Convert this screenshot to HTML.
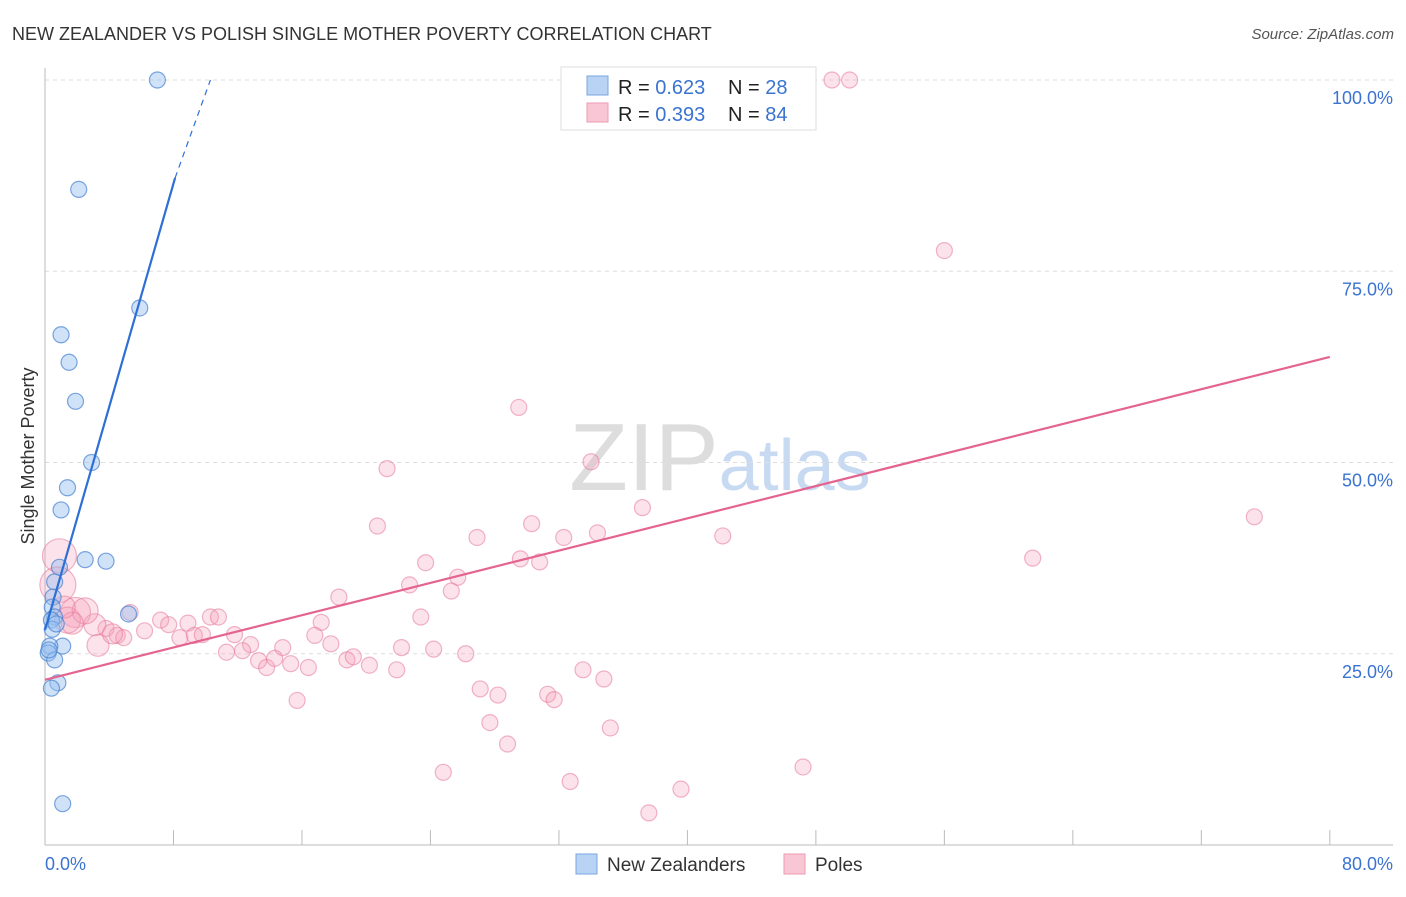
<!DOCTYPE html>
<html><head><meta charset="utf-8"><style>
body{margin:0;background:#fff;font-family:"Liberation Sans",sans-serif;}
svg text{font-family:"Liberation Sans",sans-serif;}
</style></head><body>
<svg id="c" width="1406" height="892" xmlns="http://www.w3.org/2000/svg">
<text x="12" y="40" font-size="18" fill="#333">NEW ZEALANDER VS POLISH SINGLE MOTHER POVERTY CORRELATION CHART</text>
<text x="1394" y="39" font-size="15" fill="#555" text-anchor="end" font-style="italic">Source: ZipAtlas.com</text>
<text x="720" y="490" font-size="96" fill="#ddd" text-anchor="middle" font-family="Liberation Serif">ZIP<tspan fill="#c8daf2" font-family="Liberation Sans" font-size="72">atlas</tspan></text>
<text transform="translate(34,456) rotate(-90)" font-size="18" fill="#333" text-anchor="middle">Single Mother Poverty</text>
<g id="grid"></g><g id="pts"></g><g id="lines"></g>
<g>
<rect x="561" y="67" width="255" height="63" fill="#fff" stroke="#ddd"/>
<rect x="587" y="76" width="21" height="19" fill="#b9d3f5" stroke="#7aa6e0"/>
<rect x="587" y="103" width="21" height="19" fill="#f9c6d5" stroke="#ee99b2"/>
<text x="618" y="94" font-size="20" fill="#222">R = <tspan fill="#3a73d0">0.623</tspan></text>
<text x="728" y="94" font-size="20" fill="#222">N = <tspan fill="#3a73d0">28</tspan></text>
<text x="618" y="121" font-size="20" fill="#222">R = <tspan fill="#3a73d0">0.393</tspan></text>
<text x="728" y="121" font-size="20" fill="#222">N = <tspan fill="#3a73d0">84</tspan></text>
</g>
<g>
<rect x="576" y="854" width="21" height="20" fill="#b9d3f5" stroke="#7aa6e0"/>
<text x="607" y="871" font-size="19" fill="#333">New Zealanders</text>
<rect x="784" y="854" width="21" height="20" fill="#f9c6d5" stroke="#ee99b2"/>
<text x="815" y="871" font-size="19" fill="#333">Poles</text>
</g>
</svg>
<script>
const xTicks=[0,10,20,30,40,50,60,70,80];
const yTicks=[25,50,75,100];
const blueX=[7,2.1,5.9,1,1.5,1.9,2.9,1.4,1,2.5,3.8,0.9,0.6,0.5,0.45,0.6,0.4,5.2,1.1,0.3,0.2,0.6,0.8,0.4,1.1,0.25,0.45,0.7];
const blueY=[100,85.7,70.2,66.7,63.1,58,50,46.7,43.8,37.3,37.1,36.3,34.4,32.4,31.1,29.8,29.4,30.2,26,26,25.1,24.2,21.2,20.5,5.4,25.5,28.2,28.9];
const pinkX=[36,40.3,43,49,50.1,56,29.5,21.3,34,37.2,75.3,30.3,20.7,26.9,32.3,34.4,42.2,61.5,29.6,30.8,23.7,25.7,22.7,25.3,18.3,23.4,17.2,5.3,10.3,10.8,7.2,7.7,8.9,6.2,3.8,4.5,4.9,8.4,9.3,9.8,11.8,12.8,14.8,16.8,17.8,22.2,24.2,26.2,11.3,12.3,13.3,13.8,14.3,15.3,16.4,18.8,19.2,20.2,21.9,33.5,34.8,27.1,28.2,31.3,31.7,15.7,27.7,35.2,28.8,24.8,32.7,47.2,39.6,37.6,0.9,0.8,1.9,3.1,3.3,4.2,1.4,2.5,1.7,1.2];
const pinkY=[100,100,100,100,100,77.7,57.2,49.2,50.1,44.1,42.9,42,41.7,40.2,40.2,40.8,40.4,37.5,37.4,37,36.9,35,34,33.2,32.4,29.8,29.1,30.4,29.8,29.8,29.4,28.8,29,28,28.3,27.4,27.1,27.1,27.4,27.5,27.5,26.2,25.8,27.4,26.3,25.8,25.6,25,25.2,25.4,24.1,23.2,24.4,23.7,23.2,24.2,24.6,23.5,22.9,22.9,21.7,20.4,19.6,19.7,19,18.9,16,15.3,13.2,9.5,8.3,10.2,7.3,4.2,37.8,34,30.4,28.8,26.1,27.6,29.4,30.6,29,31.1];
const pinkR=[8,8,8,8,8,8,8,8,8,8,8,8,8,8,8,8,8,8,8,8,8,8,8,8,8,8,8,8,8,8,8,8,8,8,8,8,8,8,8,8,8,8,8,8,8,8,8,8,8,8,8,8,8,8,8,8,8,8,8,8,8,8,8,8,8,8,8,8,8,8,8,8,8,8,17,18,15,11,11,10,13,13,11,11];
const blueLine=[0,28.1,8.1,87.2,10.3,100];
const pinkLine=[0,21.6,80,63.8];
const X=v=>45+v*16.06, Y=v=>845-v*7.65;
const NS='http://www.w3.org/2000/svg';
function mk(t,a,p){const e=document.createElementNS(NS,t);for(const k in a)e.setAttribute(k,a[k]);p.appendChild(e);return e;}
const g=document.getElementById('grid');
yTicks.forEach(t=>{const l=mk('line',{x1:45,x2:1393,y1:Y(t),y2:Y(t),stroke:'#ddd','stroke-dasharray':'4,4'},g);


const tx=mk('text',{x:1393,y:Y(t)+24,'font-size':18,fill:'#3a73d0','text-anchor':'end'},g);tx.textContent=t.toFixed(1)+'%';

});
mk('line',{x1:45,x2:45,y1:68,y2:845,stroke:'#bbb'},g);
mk('line',{x1:45,x2:1393,y1:845,y2:845,stroke:'#bbb'},g);
for(let i=0;i<=10;i++){const x=X(i*8);const t=mk('line',{x1:x,x2:x,y1:830,y2:845,stroke:'#bbb'},g);

}
[[0,'start'],[80,'end']].forEach(([v,a])=>{const tx=mk('text',{x:v==0?45:1393,y:870,'font-size':18,fill:'#3a73d0','text-anchor':a},g);tx.textContent=v.toFixed(1)+'%';

});
const p=document.getElementById('pts');
pinkX.forEach((v,i)=>{const c=mk('circle',{cx:X(v),cy:Y(pinkY[i]),r:pinkR[i],fill:'rgba(245,160,185,0.3)',stroke:'rgba(230,120,155,0.55)','stroke-width':1.2},p);

});
blueX.forEach((v,i)=>{const c=mk('circle',{cx:X(v),cy:Y(blueY[i]),r:8,fill:'rgba(150,190,240,0.45)',stroke:'rgba(70,130,210,0.7)','stroke-width':1.2},p);

});
const L=document.getElementById('lines');
let b=mk('line',{x1:X(blueLine[0]),y1:Y(blueLine[1]),x2:X(blueLine[2]),y2:Y(blueLine[3]),stroke:'#2e6fd6','stroke-width':2.2},L);


b=mk('line',{x1:X(blueLine[2]),y1:Y(blueLine[3]),x2:X(blueLine[4]),y2:Y(blueLine[5]),stroke:'#2e6fd6','stroke-width':1.2,'stroke-dasharray':'6,5'},L);


b=mk('line',{x1:X(pinkLine[0]),y1:Y(pinkLine[1]),x2:X(pinkLine[2]),y2:Y(pinkLine[3]),stroke:'#e4648f','stroke-width':2.2},L);


</script>
</body></html>
